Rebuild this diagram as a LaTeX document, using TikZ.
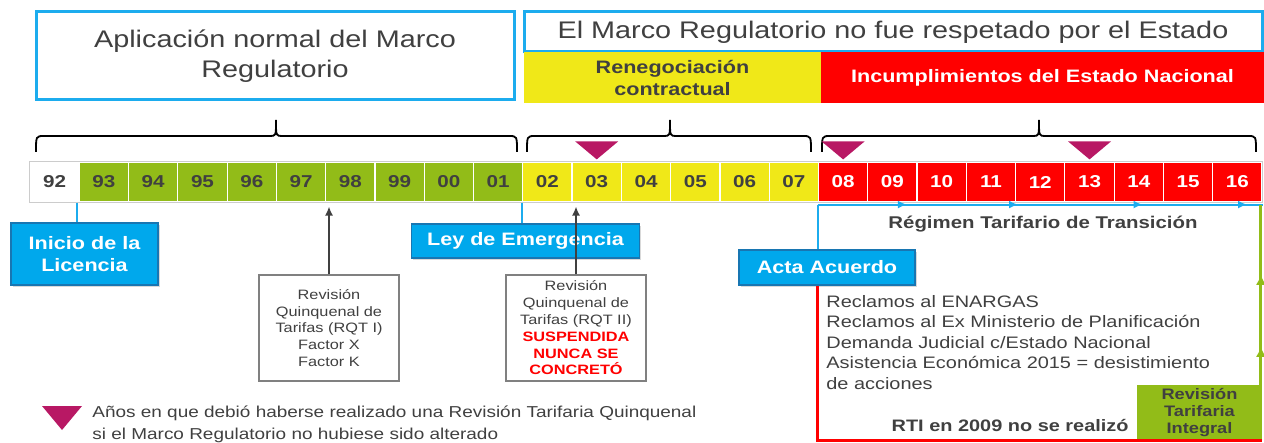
\documentclass[tikz,border=0pt]{standalone}
\usepackage{fontspec}
\setmainfont{Liberation Sans}[FakeStretch=1.2]
\usepackage{tikz}
\usetikzlibrary{calc}
\usetikzlibrary{decorations.markings}
\usetikzlibrary{arrows.meta}
\usetikzlibrary{shadows}

\definecolor{azulmarco}{RGB}{28,172,238}
\definecolor{azulcaja}{RGB}{0,168,236}
\definecolor{azulborde}{RGB}{24,118,178}
\definecolor{verde}{RGB}{146,188,24}
\definecolor{amarillo}{RGB}{240,232,24}
\definecolor{rojo}{RGB}{255,0,0}
\definecolor{violeta}{RGB}{184,24,100}
\definecolor{txtgris}{RGB}{64,64,64}

\tikzset{
  anio/.style={rectangle, draw=white, line width=0.6pt, minimum width=24.64pt, minimum height=20pt, inner sep=0pt, font=\fontsize{8.6}{10}\selectfont\bfseries},
  marco/.style={rectangle, draw=azulmarco, line width=1.5pt, fill=white, text=txtgris, align=center, inner sep=0pt, font=\fontsize{12}{15}\selectfont},
  franja/.style={rectangle, align=center, inner sep=0pt, minimum height=25.5pt, font=\fontsize{9}{11}\selectfont\bfseries},
  etiqueta/.style={rectangle, draw=azulborde, line width=0.8pt, fill=azulcaja, text=white, align=center, inner sep=0pt, font=\fontsize{9}{10.8}\selectfont\bfseries, drop shadow={opacity=0.3, shadow xshift=0.8pt, shadow yshift=-0.8pt}},
  notabox/.style={rectangle, draw=gray, line width=0.7pt, fill=white, text=txtgris, align=center, inner sep=0pt, minimum width=70pt, minimum height=53pt, font=\fontsize{6.8}{8.4}\selectfont},
  lineaazul/.style={draw=azulmarco, line width=1pt},
  flechagris/.style={draw=txtgris, line width=0.7pt, -{Latex[length=4.5pt,width=4pt]}},
  llave/.style={line width=0.9pt},
}

\newcommand{\marca}[1]{\fill[violeta] ($(#1.north)+(-21.5,-20)$) -- ($(#1.north)+(21.5,-20)$) -- ($(#1.north)+(0,-2)$) -- cycle;}
\newcommand{\llave}[3]{\draw[llave] (#1,152) .. controls (#1,136) .. ($(#1,136)+(8,0)$) -- ($(#2,136)+(-6,0)$) .. controls (#2,136) .. (#2,120) .. controls (#2,136) .. ($(#2,136)+(6,0)$) -- ($(#3,136)+(-8,0)$) .. controls (#3,136) .. (#3,152);}

\begin{document}
\begin{tikzpicture}[x=0.5pt,y=-0.5pt]
        \useasboundingbox (0,0) rectangle (1264,443);

        %boxes
        \node[marco, minimum width=239pt, minimum height=44pt] (normal) at (275,56) {Aplicación normal del Marco\\Regulatorio};
        \node[marco, minimum width=369pt, minimum height=20pt] (noresp) at (893,32) {El Marco Regulatorio no fue respetado por el Estado};
        \node[franja, fill=amarillo, text=txtgris, minimum width=148.5pt] (reneg) at (672.5,77.5) {Renegociación\\contractual};
        \node[franja, fill=rojo, text=white, minimum width=221.5pt] (incump) at (1042.5,77.5) {Incumplimientos del Estado Nacional};

        %braces
        \llave{36}{276}{517}
        \llave{527}{670}{811}
        \llave{822}{1039}{1256}

        %years
        \foreach \yr [count=\i from 0] in {92,93,94,95,96,97,98,99,00,01,02,03,04,05,06,07,08,09,10,11,12,13,14,15,16} {
          \ifnum\i=0 \def\cf{white}\def\ct{txtgris}\fi
          \ifnum\i>0 \def\cf{verde}\def\ct{txtgris}\fi
          \ifnum\i>9 \def\cf{amarillo}\fi
          \ifnum\i>15 \def\cf{rojo}\def\ct{white}\fi
          \node[anio, fill=\cf, text=\ct] (y\yr) at ({30+49.28*(\i+0.5)},182) {\yr};
        }
        \draw[gray!40, line width=0.6pt] (y92.north west) rectangle (y16.south east);

        %marks
        \marca{y03}
        \marca{y08}
        \marca{y13}

        %labels
        \node[etiqueta, minimum width=73.5pt, minimum height=31pt] (inicio) at (84.5,254) {Inicio de la\\Licencia};
        \node[etiqueta, minimum width=114pt, minimum height=17pt] (ley) at (525.5,241) {Ley de Emergencia};
        \node[etiqueta, minimum width=88pt, minimum height=17.5pt] (acta) at (827,267.5) {Acta Acuerdo};
        \draw[lineaazul] ([xshift=-1.5pt]y92.south east) -- ([xshift=-1.5pt]y92.south east |- inicio.north);
        \draw[lineaazul] (y02.south west) -- (y02.south west |- ley.north);
        \draw[lineaazul] ([yshift=-1pt]y08.south west) -- (y08.south west |- acta.north);
        \draw[lineaazul, postaction={decorate}, decoration={markings,
            mark=at position 0.2 with {\arrow{Latex[length=4.5pt,width=4pt]}},
            mark=at position 0.45 with {\arrow{Latex[length=4.5pt,width=4pt]}},
            mark=at position 0.73 with {\arrow{Latex[length=4.5pt,width=4pt]}},
            mark=at position 0.965 with {\arrow{Latex[length=4.5pt,width=4pt]}}}]
            ([yshift=-1pt]y08.south west) -- ([yshift=-1pt]y16.south east);

        %reviews
        \node[notabox] (rqt1) at (329,328) {Revisión\\Quinquenal de\\Tarifas (RQT I)\\Factor X\\Factor K};
        \node[notabox] (rqt2) at (576,328) {Revisión\\Quinquenal de\\Tarifas (RQT II)\\\textcolor{rojo}{\textbf{SUSPENDIDA}}\\\textcolor{rojo}{\textbf{NUNCA SE}}\\\textcolor{rojo}{\textbf{CONCRETÓ}}};
        \draw[flechagris] (rqt1.north) -- ([yshift=-2pt]rqt1.north |- y97.south);
        \draw[flechagris] (rqt2.north) -- ([yshift=-2pt]rqt2.north |- y03.south);

        %transition
        \node[text=txtgris, font=\fontsize{8.5}{10}\selectfont\bfseries] (regimen) at (1043,224) {Régimen Tarifario de Transición};
        \node[anchor=north west, align=left, inner sep=0pt, text=txtgris, font=\fontsize{8.3}{10.25}\selectfont] (reclamos) at (826,295) {Reclamos al ENARGAS\\Reclamos al Ex Ministerio de Planificación\\Demanda Judicial c/Estado Nacional\\Asistencia Económica 2015 = desistimiento\\de acciones};
        \node[anchor=east, inner sep=0pt, text=txtgris, font=\fontsize{8.3}{10}\selectfont\bfseries] (rti) at (1129,425) {RTI en 2009 no se realizó};
        \node[rectangle, fill=verde, minimum width=62.5pt, minimum height=27.5pt, align=center, inner sep=0pt, text=txtgris, font=\fontsize{7.6}{8.3}\selectfont\bfseries] (revtar) at (1199.5,412.5) {Revisión\\Tarifaria\\Integral};
        \draw[draw=verde, line width=1.5pt, postaction={decorate}, decoration={markings,
            mark=at position 0.21 with {\arrow{Latex[length=5pt,width=5pt]}},
            mark=at position 0.61 with {\arrow{Latex[length=5pt,width=5pt]}}}]
            ([xshift=-0.75pt]revtar.north east) -- ([xshift=-0.75pt,yshift=-1pt]revtar.north east |- y16.south);
        \coordinate (esq) at (y08.south west |- revtar.south);
        \draw[draw=rojo, line width=1.5pt] (acta.south -| esq) -- (esq) -- (revtar.south east);

        %legend
        \fill[violeta] (42,406) -- (82,406) -- (62,430) -- cycle;
        \node[anchor=west, align=left, inner sep=0pt, text=txtgris, font=\fontsize{7.9}{11}\selectfont] (leyenda) at (92,424) {Años en que debió haberse realizado una Revisión Tarifaria Quinquenal\\si el Marco Regulatorio no hubiese sido alterado};

\end{tikzpicture}
\end{document}
